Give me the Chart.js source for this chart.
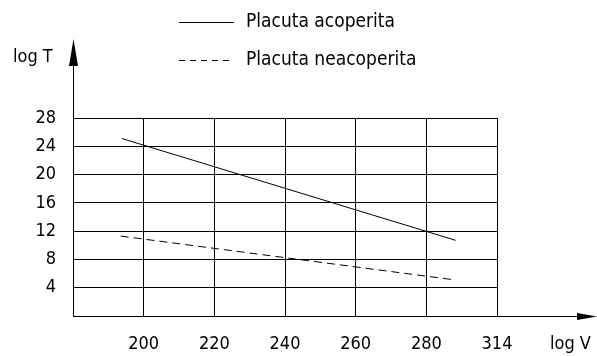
<!DOCTYPE html>
<html>
<head>
<meta charset="utf-8">
<script src="https://cdn.jsdelivr.net/npm/chart.js@4/dist/chart.umd.min.js"></script>
<style>
  html, body { margin: 0; padding: 0; background: #fff; }
  canvas { display: block; }
</style>
</head>
<body>
<canvas id="grafic" width="597" height="356"></canvas>
<script>
// valori
const xTickValues = [180, 200, 220, 240, 260, 280, 300];
const xTickLabels = ["", "200", "220", "240", "260", "280", "314"];
const yTickLabels = ["", "4", "8", "12", "16", "20", "24", "28"];

const vAcoperita = [193.8, 288.3];
const tAcoperita = [25.1, 10.7];
const vNeacoperita = [193.5, 288.1];
const tNeacoperita = [11.3, 5.1];

const serii = ["Placuta acoperita", "Placuta neacoperita"];
const FONT = "'Liberation Sans Narrow', 'DejaVu Sans Condensed', 'DejaVu Sans', sans-serif";

function puncte(xs, ys) {
  return xs.map((x, i) => ({ x: x, y: ys[i] }));
}

// axe cu sageti, titluri si legenda desenate peste grafic
const axePlugin = {
  id: "axe",
  afterDraw(chart) {
    const ctx = chart.ctx;
    const a = chart.chartArea;
    ctx.save();
    ctx.strokeStyle = "#000";
    ctx.fillStyle = "#000";
    ctx.lineWidth = 1;

    // axa X prelungita
    ctx.beginPath();
    ctx.moveTo(a.left, a.bottom + 0.5);
    ctx.lineTo(580, a.bottom + 0.5);
    ctx.stroke();
    ctx.beginPath();
    ctx.moveTo(597, a.bottom + 0.5);
    ctx.lineTo(577, a.bottom - 3);
    ctx.lineTo(577, a.bottom + 4);
    ctx.closePath();
    ctx.fill();

    // axa Y prelungita
    ctx.beginPath();
    ctx.moveTo(a.left + 0.5, a.top);
    ctx.lineTo(a.left + 0.5, 62);
    ctx.stroke();
    ctx.beginPath();
    ctx.moveTo(a.left + 0.5, 39);
    ctx.lineTo(a.left - 4, 66);
    ctx.lineTo(a.left + 5, 66);
    ctx.closePath();
    ctx.fill();

    ctx.font = "18px " + FONT;
    ctx.textBaseline = "middle";
    ctx.textAlign = "left";
    ctx.fillText("log T", 13, 57);
    ctx.fillText("log V", 550, 344);

    // legenda
    ctx.font = "19px " + FONT;
    const randuri = [22.5, 60.5];
    serii.forEach((nume, i) => {
      ctx.beginPath();
      ctx.setLineDash(i === 0 ? [] : [6, 5]);
      ctx.moveTo(179, randuri[i]);
      ctx.lineTo(234, randuri[i]);
      ctx.stroke();
      ctx.setLineDash([]);
      ctx.fillText(nume, 246, randuri[i]);
    });
    ctx.restore();
  }
};

new Chart(document.getElementById("grafic"), {
  type: "scatter",
  data: {
    datasets: [
      {
        label: serii[0],
        data: puncte(vAcoperita, tAcoperita),
        showLine: true,
        borderColor: "#000",
        borderWidth: 1,
        pointRadius: 0,
      },
      {
        label: serii[1],
        data: puncte(vNeacoperita, tNeacoperita),
        showLine: true,
        borderColor: "#000",
        borderWidth: 1,
        borderDash: [8, 5],
        pointRadius: 0,
      },
    ],
  },
  options: {
    responsive: false,
    animation: false,
    devicePixelRatio: 1,
    layout: { padding: { top: 118, right: 100, left: 0, bottom: 0 } },
    plugins: {
      legend: { display: false },
      tooltip: { enabled: false },
    },
    scales: {
      x: {
        type: "linear",
        min: 180,
        max: 300,
        afterBuildTicks: (scale) => {
          scale.ticks = xTickValues.map((v) => ({ value: v }));
        },
        afterFit: (scale) => { scale.height = 40; },
        grid: { color: "#000", lineWidth: 1, drawTicks: false },
        border: { color: "#000", width: 1 },
        ticks: {
          color: "#000",
          padding: 18,
          maxRotation: 0,
          autoSkip: false,
          font: { family: FONT, size: 18 },
          callback: (v, i) => xTickLabels[i],
        },
      },
      y: {
        min: 0,
        max: 28,
        afterFit: (scale) => { scale.width = 73; },
        grid: { color: "#000", lineWidth: 1, drawTicks: false },
        border: { color: "#000", width: 1 },
        ticks: {
          stepSize: 4,
          color: "#000",
          padding: 17,
          font: { family: FONT, size: 18 },
          callback: (v, i) => yTickLabels[i],
        },
      },
    },
  },
  plugins: [axePlugin],
});
</script>
</body>
</html>
